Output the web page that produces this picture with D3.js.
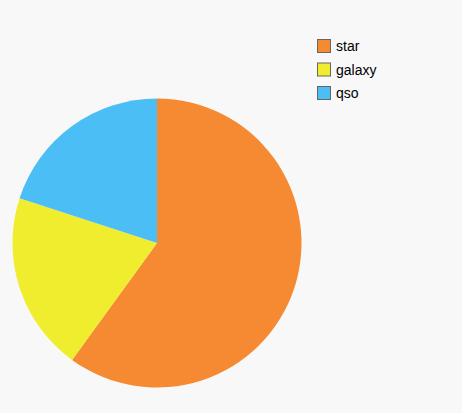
<!DOCTYPE html>
<html>
<head>
<meta charset="utf-8">
<script src="https://cdn.jsdelivr.net/npm/d3@7"></script>
<style>
  html, body { margin: 0; padding: 0; background: #f8f8f8; }
  text { font-family: "Liberation Sans", Arial, sans-serif; }
</style>
</head>
<body>
<script>
var width = 462, height = 413;

var categories = ["star", "galaxy", "qso"];
var values = [60, 20, 20];
var colors = ["#f58a32", "#f0ed2f", "#4bbff5"];

var cx = 157, cy = 243, radius = 144.5;

var svg = d3.select("body").append("svg")
    .attr("width", width).attr("height", height)
    .style("display", "block")
    .style("background", "#f8f8f8");

var pie = d3.pie().sort(null).value(function(d) { return d; });
var arc = d3.arc().innerRadius(0).outerRadius(radius);
var color = d3.scaleOrdinal().domain(categories).range(colors);

var g = svg.append("g").attr("transform", "translate(" + cx + "," + cy + ")");
g.selectAll("path")
    .data(pie(values))
    .enter().append("path")
    .attr("d", arc)
    .attr("fill", function(d, i) { return color(categories[i]); });

// legend
var legend = svg.append("g").attr("transform", "translate(317,39)");
var rows = legend.selectAll("g")
    .data(categories)
    .enter().append("g")
    .attr("transform", function(d, i) { return "translate(0," + (i * 23.5) + ")"; });
rows.append("rect")
    .attr("x", 0.5).attr("y", 0.5)
    .attr("width", 13).attr("height", 13)
    .attr("fill", function(d) { return color(d); })
    .attr("stroke", "#666").attr("stroke-width", 1);
rows.append("text")
    .attr("x", 19).attr("y", 12)
    .attr("font-size", 14)
    .attr("fill", "#000")
    .text(function(d) { return d; });
</script>
</body>
</html>
